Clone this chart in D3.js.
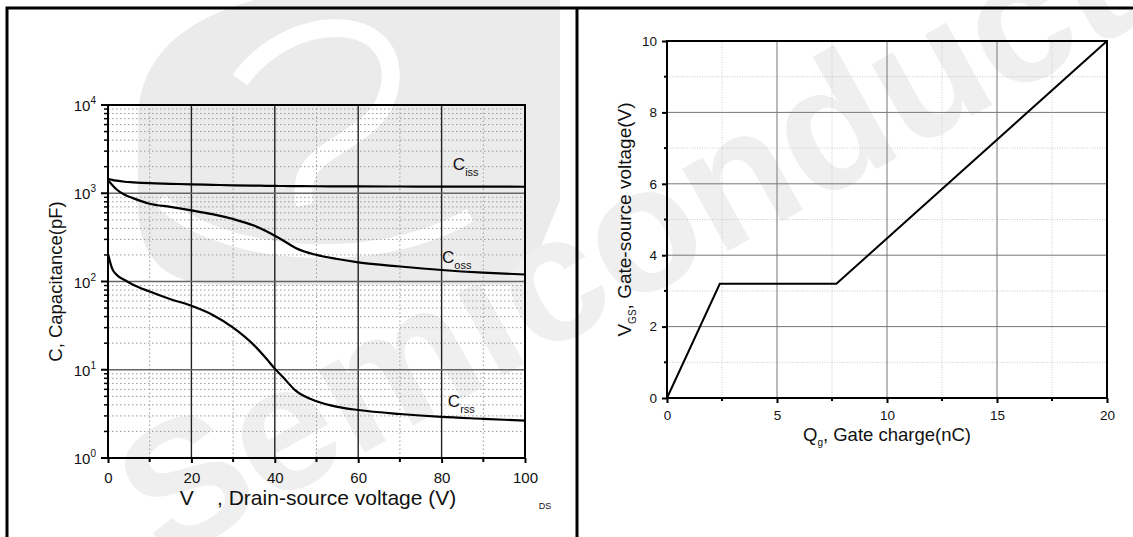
<!DOCTYPE html>
<html>
<head>
<meta charset="utf-8">
<script src="https://cdn.jsdelivr.net/npm/d3@7"></script>
<style>
  body { margin: 0; background: #fff; }
  text { font-family: "Liberation Sans", Arial, sans-serif; fill: #111; }
</style>
</head>
<body>
<svg id="chart" width="1133" height="537"></svg>
<script>

// capacitance vs drain-source voltage
var vds  = [0, 1, 2, 4, 6, 10, 15, 20, 25, 30, 35, 38, 40, 42, 45, 50, 55, 60, 70, 80, 90, 100];
var ciss = [1460, 1420, 1390, 1350, 1330, 1300, 1280, 1260, 1245, 1230, 1220, 1215, 1210, 1208, 1205, 1200, 1198, 1195, 1192, 1190, 1188, 1185];
var coss = [1420, 1240, 1110, 960, 880, 760, 700, 640, 580, 510, 430, 370, 330, 292, 240, 200, 180, 165, 148, 135, 126, 120];
var crss = [205, 140, 120, 104, 92, 77, 63, 53, 42, 30, 19, 13.3, 10.3, 8.2, 5.8, 4.4, 3.8, 3.5, 3.15, 2.92, 2.78, 2.65];
var vdsTicks = [0, 20, 40, 60, 80, 100];
var capExps = [0, 1, 2, 3, 4];

// gate charge
var qg  = [0, 2.4, 7.7, 20];
var vgs = [0, 3.2, 3.2, 10];
var qgTicks = [0, 5, 10, 15, 20];
var vgsTicks = [0, 2, 4, 6, 8, 10];

var svg = d3.select('#chart');

// watermark ====================
var wm = svg.append('g').attr('class', 'watermark');
wm.append('path')
  .attr('d', 'M255,0 C180,20 138,60 138,120 L138,205 Q138,285 220,285 L525,285 L560,200 L560,0 Z')
  .style('fill', '#ebebeb');
wm.append('path')
  .attr('d', 'M240,80 C290,10 400,10 390,85 C380,150 290,140 305,205')
  .style('fill', 'none').style('stroke', '#fff').style('stroke-width', 18);
wm.append('path')
  .attr('d', 'M160,200 C220,260 380,270 470,215')
  .style('fill', 'none').style('stroke', '#fff').style('stroke-width', 14);
wm.append('text')
  .attr('transform', 'translate(730,250) rotate(-29)')
  .attr('text-anchor', 'middle')
  .style('font-size', '178px')
  .style('font-weight', 'bold')
  .style('fill', '#efefef')
  .text('Semiconductor');

// frame
svg.append('path')
  .attr('d', 'M7,537 V8 H1133 M577,8 V537')
  .style('fill', 'none').style('stroke', '#000').style('stroke-width', 3);

// left chart ====================
var xL = d3.scaleLinear().domain([0, 100]).range([108, 525]);
var yL = d3.scaleLog().domain([1, 1e4]).range([458, 105]);

var left = svg.append('g');

var minorV = d3.range(10, 100, 20);
var majorV = [20, 40, 60, 80];
var minorC = [];
capExps.slice(0, 4).forEach(function(e) {
  for (var k = 2; k < 10; k++) minorC.push(k * Math.pow(10, e));
});
var majorC = [10, 100, 1000];

left.selectAll('.minx').data(minorV).enter().append('line')
  .attr('x1', xL).attr('x2', xL).attr('y1', yL(1)).attr('y2', yL(1e4))
  .style('stroke', '#999').style('stroke-dasharray', '1.5,2.5');
left.selectAll('.miny').data(minorC).enter().append('line')
  .attr('x1', xL(0)).attr('x2', xL(100)).attr('y1', yL).attr('y2', yL)
  .style('stroke', '#999').style('stroke-dasharray', '1.5,2.5');
left.selectAll('.majx').data(majorV).enter().append('line')
  .attr('x1', xL).attr('x2', xL).attr('y1', yL(1)).attr('y2', yL(1e4))
  .style('stroke', '#222').style('stroke-width', 1.4);
left.selectAll('.majy').data(majorC).enter().append('line')
  .attr('x1', xL(0)).attr('x2', xL(100)).attr('y1', yL).attr('y2', yL)
  .style('stroke', '#666').style('stroke-width', 1.6);

var lineL = function(vals) {
  return d3.line()
    .x(function(d, i) { return xL(vds[i]); })
    .y(function(d) { return yL(d); })
    .curve(d3.curveMonotoneX)(vals);
};
[ciss, coss, crss].forEach(function(s) {
  left.append('path').attr('d', lineL(s))
    .style('fill', 'none').style('stroke', '#000').style('stroke-width', 2.2);
});

// axes
left.append('g').attr('transform', 'translate(0,' + yL(1) + ')')
  .call(d3.axisBottom(xL).tickValues(vdsTicks).tickSize(5).tickFormat(d3.format('d')))
  .call(function(g) {
    g.select('.domain').remove();
    g.selectAll('line').style('stroke-width', 2);
    g.selectAll('text').style('font-size', '15px').attr('dy', '1.1em');
  });
left.selectAll('.minxt').data(minorV).enter().append('line')
  .attr('x1', xL).attr('x2', xL).attr('y1', yL(1)).attr('y2', yL(1) + 4)
  .style('stroke', '#000').style('stroke-width', 2);
left.selectAll('.minyt').data(minorC).enter().append('line')
  .attr('x1', xL(0) - 4).attr('x2', xL(0)).attr('y1', yL).attr('y2', yL)
  .style('stroke', '#000').style('stroke-width', 1.5);
left.selectAll('.majyt').data(capExps).enter().append('line')
  .attr('x1', xL(0) - 7).attr('x2', xL(0))
  .attr('y1', function(e) { return yL(Math.pow(10, e)); })
  .attr('y2', function(e) { return yL(Math.pow(10, e)); })
  .style('stroke', '#000').style('stroke-width', 2);

var ylab = left.selectAll('.ylab').data(capExps).enter().append('text')
  .attr('x', 96)
  .attr('y', function(e) { return yL(Math.pow(10, e)) + 6; })
  .attr('text-anchor', 'end')
  .style('font-size', '15px');
ylab.text('10');
ylab.append('tspan').attr('dy', -7).style('font-size', '10px')
  .text(function(e) { return e; });

left.append('rect')
  .attr('x', xL(0)).attr('y', yL(1e4))
  .attr('width', xL(100) - xL(0)).attr('height', yL(1) - yL(1e4))
  .style('fill', 'none').style('stroke', '#000').style('stroke-width', 2);

// curve labels
var capLabels = [
  { main: 'C', sub: 'iss', x: 82.7, y: 1833 },
  { main: 'C', sub: 'oss', x: 80.1, y: 162 },
  { main: 'C', sub: 'rss', x: 81.5, y: 3.78 }
];
capLabels.forEach(function(l) {
  var t = left.append('text')
    .attr('x', xL(l.x)).attr('y', yL(l.y))
    .style('font-size', '17px')
    .text(l.main);
  t.append('tspan').attr('dy', 6).style('font-size', '11px').text(l.sub);
});

left.append('text')
  .attr('transform', 'translate(62,' + ((yL(1) + yL(1e4)) / 2) + ') rotate(-90)')
  .attr('text-anchor', 'middle')
  .style('font-size', '18.5px')
  .text('C, Capacitance(pF)');
left.append('text')
  .attr('x', 318).attr('y', 505)
  .attr('text-anchor', 'middle')
  .attr('xml:space', 'preserve')
  .style('font-size', '21px')
  .text('V    , Drain-source voltage (V)');
left.append('text')
  .attr('x', 545).attr('y', 509)
  .attr('text-anchor', 'middle')
  .style('font-size', '9px')
  .text('DS');

// right chart ====================
var xR = d3.scaleLinear().domain([0, 20]).range([667, 1107]);
var yR = d3.scaleLinear().domain([0, 10]).range([398, 41]);

var right = svg.append('g');

var minorQ = [2.5, 7.5, 12.5, 17.5];
var majorQ = [5, 10, 15];
var minorG = [1, 3, 5, 7, 9];
var majorG = [2, 4, 6, 8];

right.selectAll('.minx').data(minorQ).enter().append('line')
  .attr('x1', xR).attr('x2', xR).attr('y1', yR(0)).attr('y2', yR(10))
  .style('stroke', '#c8c8c8').style('stroke-dasharray', '1,1.5');
right.selectAll('.miny').data(minorG).enter().append('line')
  .attr('x1', xR(0)).attr('x2', xR(20)).attr('y1', yR).attr('y2', yR)
  .style('stroke', '#c8c8c8').style('stroke-dasharray', '1,1.5');
right.selectAll('.majx').data(majorQ).enter().append('line')
  .attr('x1', xR).attr('x2', xR).attr('y1', yR(0)).attr('y2', yR(10))
  .style('stroke', '#777').style('stroke-width', 1);
right.selectAll('.majy').data(majorG).enter().append('line')
  .attr('x1', xR(0)).attr('x2', xR(20)).attr('y1', yR).attr('y2', yR)
  .style('stroke', '#777').style('stroke-width', 1);

right.append('path')
  .datum(qg.map(function(q, i) { return [q, vgs[i]]; }))
  .attr('d', d3.line().x(function(d) { return xR(d[0]); }).y(function(d) { return yR(d[1]); }))
  .style('fill', 'none').style('stroke', '#000').style('stroke-width', 2);

right.append('g').attr('transform', 'translate(0,' + yR(0) + ')')
  .call(d3.axisBottom(xR).tickValues(qgTicks).tickSize(5))
  .call(function(g) {
    g.select('.domain').remove();
    g.selectAll('line').style('stroke-width', 2);
    g.selectAll('text').style('font-size', '13.5px').attr('dy', '1em');
  });
right.append('g').attr('transform', 'translate(' + xR(0) + ',0)')
  .call(d3.axisLeft(yR).tickValues(vgsTicks).tickSize(5))
  .call(function(g) {
    g.select('.domain').remove();
    g.selectAll('line').style('stroke-width', 2);
    g.selectAll('text').style('font-size', '13.5px').attr('x', -10);
  });
right.selectAll('.minxt').data(minorQ).enter().append('line')
  .attr('x1', xR).attr('x2', xR).attr('y1', yR(0)).attr('y2', yR(0) + 3)
  .style('stroke', '#000').style('stroke-width', 2);
right.selectAll('.minyt').data(minorG).enter().append('line')
  .attr('x1', xR(0) - 3).attr('x2', xR(0)).attr('y1', yR).attr('y2', yR)
  .style('stroke', '#000').style('stroke-width', 2);

right.append('rect')
  .attr('x', xR(0)).attr('y', yR(10))
  .attr('width', xR(20) - xR(0)).attr('height', yR(0) - yR(10))
  .style('fill', 'none').style('stroke', '#000').style('stroke-width', 2);

var qt = right.append('text')
  .attr('x', 887).attr('y', 441)
  .attr('text-anchor', 'middle')
  .style('font-size', '18.5px')
  .text('Q');
qt.append('tspan').attr('dy', 5).style('font-size', '10px').text('g');
qt.append('tspan').attr('dy', -5).text(', Gate charge(nC)');

var vt = right.append('text')
  .attr('transform', 'translate(631,' + ((yR(0) + yR(10)) / 2) + ') rotate(-90)')
  .attr('text-anchor', 'middle')
  .style('font-size', '19px')
  .text('V');
vt.append('tspan').attr('dy', 5).style('font-size', '10px').text('GS');
vt.append('tspan').attr('dy', -5).text(', Gate-source voltage(V)');

</script>
</body>
</html>
